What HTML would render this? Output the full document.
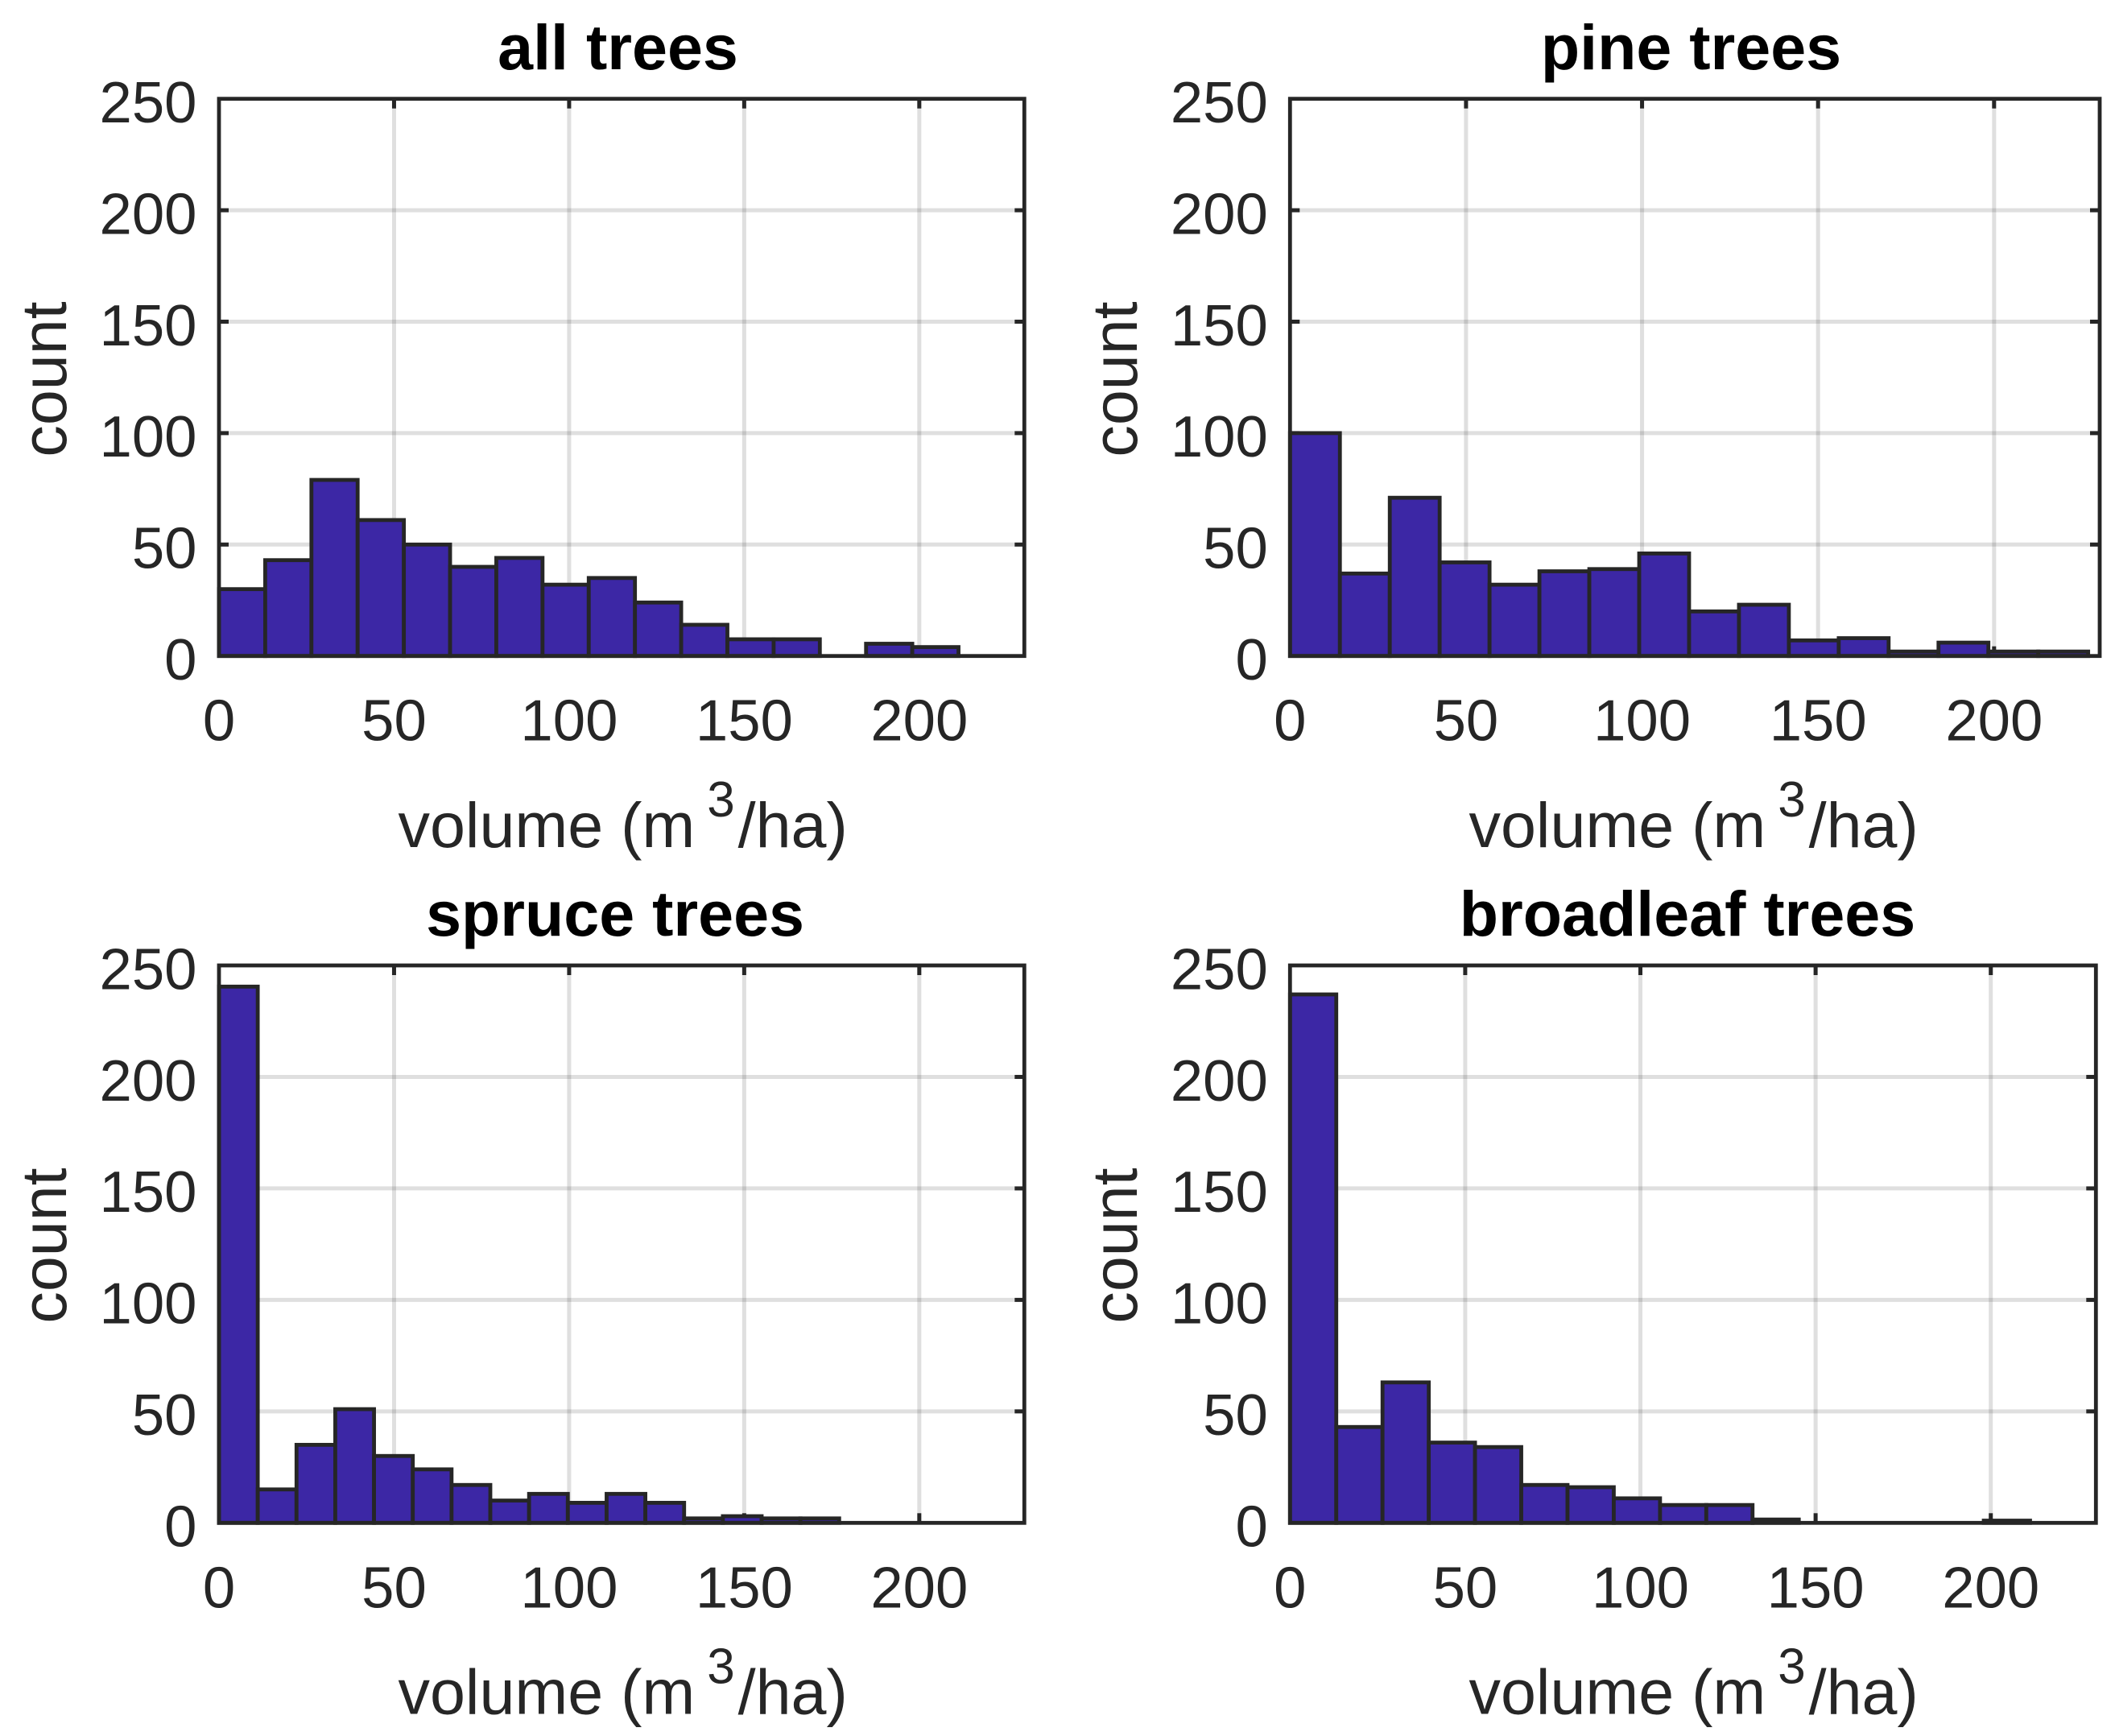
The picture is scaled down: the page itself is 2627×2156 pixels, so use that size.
<!DOCTYPE html>
<html lang="en">
<head>
<meta charset="utf-8">
<title>Tree volume histograms</title>
<style>
  html, body { margin: 0; padding: 0; background: #ffffff; }
  svg { display: block; font-family: "Liberation Sans", Arial, sans-serif; }
  .tick-text { font-size: 72.5px; fill: #262626; }
  .title { font-size: 79px; font-weight: bold; fill: #000000; text-anchor: middle; }
  .axis-label { font-size: 79px; fill: #262626; }
</style>
</head>
<body>
<svg id="chart" xmlns="http://www.w3.org/2000/svg" width="2627" height="2156" viewBox="0 0 2627 2156">
  <rect x="0" y="0" width="2627" height="2156" fill="#ffffff"/>
  <g id="panels"></g>
  <g>
    <text class="title" x="767.5" y="86">all trees</text>
    <text class="title" x="2100.5" y="86">pine trees</text>
    <text class="title" x="764" y="1162">spruce trees</text>
    <text class="title" x="2096" y="1162">broadleaf trees</text>

    <text class="axis-label" text-anchor="middle" transform="translate(82 471) rotate(-90)">count</text>
    <text class="axis-label" text-anchor="middle" transform="translate(1412 471) rotate(-90)">count</text>
    <text class="axis-label" text-anchor="middle" transform="translate(82 1547) rotate(-90)">count</text>
    <text class="axis-label" text-anchor="middle" transform="translate(1412 1547) rotate(-90)">count</text>

    <text class="axis-label" x="494.5" y="1052">volume (m <tspan font-size="62" dx="-7" dy="-38">3</tspan><tspan dx="4" dy="38">/ha)</tspan></text>
    <text class="axis-label" x="1824.5" y="1052">volume (m <tspan font-size="62" dx="-7" dy="-38">3</tspan><tspan dx="4" dy="38">/ha)</tspan></text>
    <text class="axis-label" x="494.5" y="2128.5">volume (m <tspan font-size="62" dx="-7" dy="-38">3</tspan><tspan dx="4" dy="38">/ha)</tspan></text>
    <text class="axis-label" x="1824.5" y="2128.5">volume (m <tspan font-size="62" dx="-7" dy="-38">3</tspan><tspan dx="4" dy="38">/ha)</tspan></text>
  </g>
</svg>
<script>
const xTickValues = [0, 50, 100, 150, 200];
const yTickValues = [0, 50, 100, 150, 200, 250];
const xMax = 230;
const yMax = 250;

const allTreesBinWidth = 13.2;
const allTreesCounts = [30, 43, 79, 61, 50, 40, 44, 32, 35, 24, 14, 7.5, 7.5, 0, 5.5, 4];

const pineTreesBinWidth = 14.17;
const pineTreesCounts = [100, 37, 71, 42, 32, 38, 39, 46, 20, 23, 7, 8, 2, 6, 2, 2];

const spruceTreesBinWidth = 11.07;
const spruceTreesCounts = [240.5, 15, 35, 51, 30, 24, 17, 10, 13, 9, 13, 9, 2, 3, 2, 2, 0, 0, 0, 0];

const broadleafTreesBinWidth = 13.2;
const broadleafTreesCounts = [237, 43, 63, 36, 34, 17, 16, 11, 8, 8, 1.5, 0, 0, 0, 0, 1, 0];

const SVG_NS = 'http://www.w3.org/2000/svg';
const INK = '#262626';
const BAR_FILL = '#3c27a5';
const LINE_WIDTH = 4.8;

function make(tag, attrs, parent) {
  const el = document.createElementNS(SVG_NS, tag);
  for (const key in attrs) el.setAttribute(key, attrs[key]);
  parent.appendChild(el);
  return el;
}

function drawPanel(root, key, box, binWidth, counts) {
  const xScale = v => box.left + (v / xMax) * (box.right - box.left);
  const yScale = v => box.bottom - (v / yMax) * (box.bottom - box.top);

  const panel = make('g', {}, root);
  
  

  xTickValues.forEach(function (v) {
    if (v === 0) return;
    const line = make('line', { x1: xScale(v), x2: xScale(v), y1: box.top, y2: box.bottom, stroke: INK, 'stroke-opacity': 0.15, 'stroke-width': 5 }, panel);
    
    
  });
  yTickValues.forEach(function (v) {
    if (v === 0 || v === yMax) return;
    const line = make('line', { x1: box.left, x2: box.right, y1: yScale(v), y2: yScale(v), stroke: INK, 'stroke-opacity': 0.15, 'stroke-width': 5 }, panel);
    
    
  });

  xTickValues.forEach(function (v) {
    if (v === 0) return;
    const top = make('line', { x1: xScale(v), x2: xScale(v), y1: box.top, y2: box.top + 12, stroke: INK, 'stroke-width': 5 }, panel);
    
    
    const bottom = make('line', { x1: xScale(v), x2: xScale(v), y1: box.bottom, y2: box.bottom - 12, stroke: INK, 'stroke-width': 5 }, panel);
    
    
  });
  yTickValues.forEach(function (v) {
    if (v === 0 || v === yMax) return;
    const left = make('line', { x1: box.left, x2: box.left + 12, y1: yScale(v), y2: yScale(v), stroke: INK, 'stroke-width': 5 }, panel);
    
    
    const right = make('line', { x1: box.right, x2: box.right - 12, y1: yScale(v), y2: yScale(v), stroke: INK, 'stroke-width': 5 }, panel);
    
    
  });

  counts.forEach(function (count, i) {
    const x0 = xScale(i * binWidth);
    const x1 = xScale((i + 1) * binWidth);
    const bar = make('rect', { x: x0, y: yScale(count), width: x1 - x0, height: yScale(0) - yScale(count), fill: BAR_FILL, stroke: INK, 'stroke-width': LINE_WIDTH }, panel);
    
    
  });

  const frame = make('rect', { x: box.left, y: box.top, width: box.right - box.left, height: box.bottom - box.top, fill: 'none', stroke: INK, 'stroke-width': LINE_WIDTH }, panel);
  
  

  xTickValues.forEach(function (v) {
    const label = make('text', { class: 'tick-text', x: xScale(v), y: box.bottom + 105, 'text-anchor': 'middle' }, panel);
    label.textContent = String(v);
    
    
  });
  yTickValues.forEach(function (v) {
    const label = make('text', { class: 'tick-text', x: box.left - 27.5, y: yScale(v) + 29.3, 'text-anchor': 'end' }, panel);
    label.textContent = String(v);
    
    
  });
}

const panelsRoot = document.getElementById('panels');
drawPanel(panelsRoot, 'all-trees', { left: 272, right: 1272.3, top: 122.7, bottom: 814.7 }, allTreesBinWidth, allTreesCounts);
drawPanel(panelsRoot, 'pine-trees', { left: 1602.3, right: 2608, top: 122.7, bottom: 814.7 }, pineTreesBinWidth, pineTreesCounts);
drawPanel(panelsRoot, 'spruce-trees', { left: 272, right: 1272.3, top: 1199, bottom: 1891.3 }, spruceTreesBinWidth, spruceTreesCounts);
drawPanel(panelsRoot, 'broadleaf-trees', { left: 1602.3, right: 2603.3, top: 1199, bottom: 1891.3 }, broadleafTreesBinWidth, broadleafTreesCounts);
</script>
</body>
</html>
